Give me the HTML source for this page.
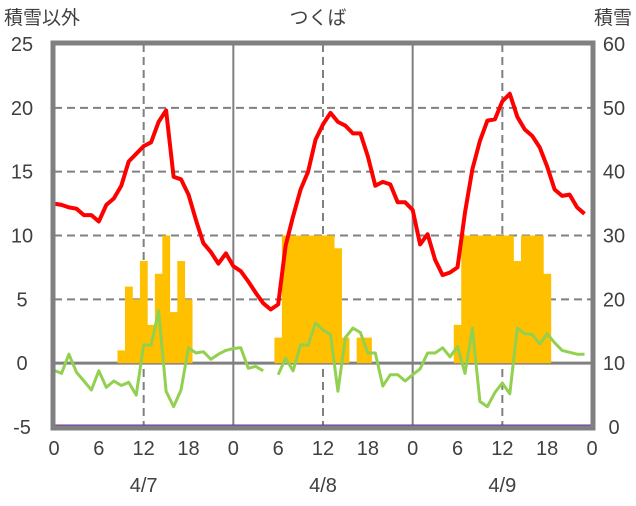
<!DOCTYPE html>
<html><head><meta charset="utf-8"><style>
body{margin:0;background:#fff}
svg text{font-family:"Liberation Sans","Noto Sans CJK JP",sans-serif;fill:#404040}
</style></head><body>
<svg id="c" width="636" height="501" xmlns="http://www.w3.org/2000/svg">
<g id="grid"></g>
<g id="bars"></g>
<g id="lines"></g>
<g id="axes"></g>
<text x="4" y="24" font-size="19">積雪以外</text>
<text x="318" y="24" font-size="19" text-anchor="middle">つくば</text>
<text x="632" y="24" font-size="19" text-anchor="end">積雪</text>
</svg>
<script>
const dates=["4/7","4/8","4/9"];
const hourTicks=[0,6,12,18];
const leftTicks=[-5,0,5,10,15,20,25];
const rightTicks=[0,10,20,30,40,50,60];
const snowHours=[9,10,11,12,13,14,15,16,17,18,30,31,32,33,34,35,36,37,38,39,41,42,54,55,56,57,58,59,60,61,62,63,64,65,66];
const snowValues=[1,6,5,8,3,7,10,4,8,5,2,10,10,10,10,10,10,10,9,2,2,2,3,10,10,10,10,10,10,10,8,10,10,10,7];
const temp=[12.5,12.4,12.2,12.1,11.6,11.6,11.1,12.4,12.9,13.9,15.8,16.4,17.0,17.3,18.9,19.8,14.6,14.4,13.2,11.2,9.4,8.7,7.8,8.6,
7.6,7.2,6.4,5.5,4.7,4.2,4.6,9.2,11.5,13.6,15.0,17.5,18.7,19.6,18.9,18.6,18.0,18.0,16.2,13.9,14.2,14.0,12.6,12.6,
12.0,9.3,10.1,8.1,6.9,7.1,7.5,11.8,15.2,17.4,19.0,19.1,20.5,21.1,19.3,18.3,17.8,16.9,15.4,13.6,13.1,13.2,12.2,11.7];
const green=[-0.55,-0.8,0.7,-0.7,-1.4,-2.1,-0.6,-1.9,-1.4,-1.75,-1.5,-2.5,1.45,1.4,4.1,-2.2,-3.4,-2.1,1.2,0.8,0.9,0.3,0.7,1.0,
1.15,1.2,-0.4,-0.25,-0.6,null,-0.9,0.4,-0.6,1.45,1.4,3.15,2.6,2.25,-2.2,2.0,2.75,2.4,0.8,0.8,-1.8,-0.9,-0.9,-1.4,
-0.9,-0.45,0.8,0.8,1.2,0.5,1.3,-0.8,2.75,-3.0,-3.4,-2.3,-1.55,-2.4,2.75,2.3,2.25,1.5,2.3,1.6,1.0,0.85,0.7,0.7];
const X0=54,X1=592,Y0=44,Y1=427;
const xs=h=>X0+h*(X1-X0)/72;
const yL=v=>Y1-(v+5)*(Y1-Y0)/30;
const NS='http://www.w3.org/2000/svg';
function mk(t,p,a){const e=document.createElementNS(NS,t);for(const k in a)e.setAttribute(k,a[k]);p.appendChild(e);return e;}
const G=document.getElementById('grid'),B=document.getElementById('bars'),L=document.getElementById('lines'),A=document.getElementById('axes');
leftTicks.forEach(v=>{if(v>-5&&v<25&&v!==0){const l=mk('line',G,{x1:X0,x2:X1,y1:yL(v),y2:yL(v),stroke:'#808080','stroke-width':2,'stroke-dasharray':'8,5'});

}});
for(let d=0;d<3;d++){const l=mk('line',G,{x1:xs(d*24+12),x2:xs(d*24+12),y1:Y0,y2:Y1,stroke:'#808080','stroke-width':2,'stroke-dasharray':'8,5'});


if(d>0){const m=mk('line',G,{x1:xs(d*24),x2:xs(d*24),y1:Y0,y2:Y1,stroke:'#808080','stroke-width':2});

}}
const zl=mk('line',G,{x1:X0,x2:X1,y1:yL(0),y2:yL(0),stroke:'#808080','stroke-width':3});


const bw=(X1-X0)/72;
snowHours.forEach((h,i)=>{const r=mk('rect',B,{x:xs(h)-bw/2,y:yL(snowValues[i]),width:bw+0.3,height:yL(0)-yL(snowValues[i]),fill:'#FFC000'});

});
function path(arr,col,w,name){let d='',pen=false;arr.forEach((v,h)=>{if(v===null){pen=false;return;}d+=(pen?'L':'M')+xs(h).toFixed(1)+' '+yL(v).toFixed(1);pen=true;});
const p=mk('path',L,{d:d,fill:'none',stroke:col,'stroke-width':w,'stroke-linejoin':'round'});

}
path(green,'#92D050',3,'green-series-line');
path(temp,'#FF0000',4,'temperature-line');
const pl=mk('line',L,{x1:X0,x2:X1,y1:Y1-1,y2:Y1-1,stroke:'#7030A0','stroke-width':3});


const fr=mk('rect',A,{x:X0-1,y:Y0-1,width:X1-X0+2,height:Y1-Y0+2,fill:'none',stroke:'#808080','stroke-width':5});


leftTicks.forEach(v=>{const t=mk('text',A,{x:22,y:yL(v)+7,'font-size':20,'text-anchor':'middle'});t.textContent=v;

});
rightTicks.forEach((v,i)=>{const t=mk('text',A,{x:614,y:yL(leftTicks[i])+7,'font-size':20,'text-anchor':'middle'});t.textContent=v;

});
for(let d=0;d<=3;d++){hourTicks.forEach(h=>{if(d===3&&h>0)return;const t=mk('text',A,{x:xs(d*24+h),y:455,'font-size':20,'text-anchor':'middle'});t.textContent=h;

});}
dates.forEach((s,d)=>{const t=mk('text',A,{x:xs(d*24+12),y:492,'font-size':20,'text-anchor':'middle'});t.textContent=s;

});
</script>
</body></html>
